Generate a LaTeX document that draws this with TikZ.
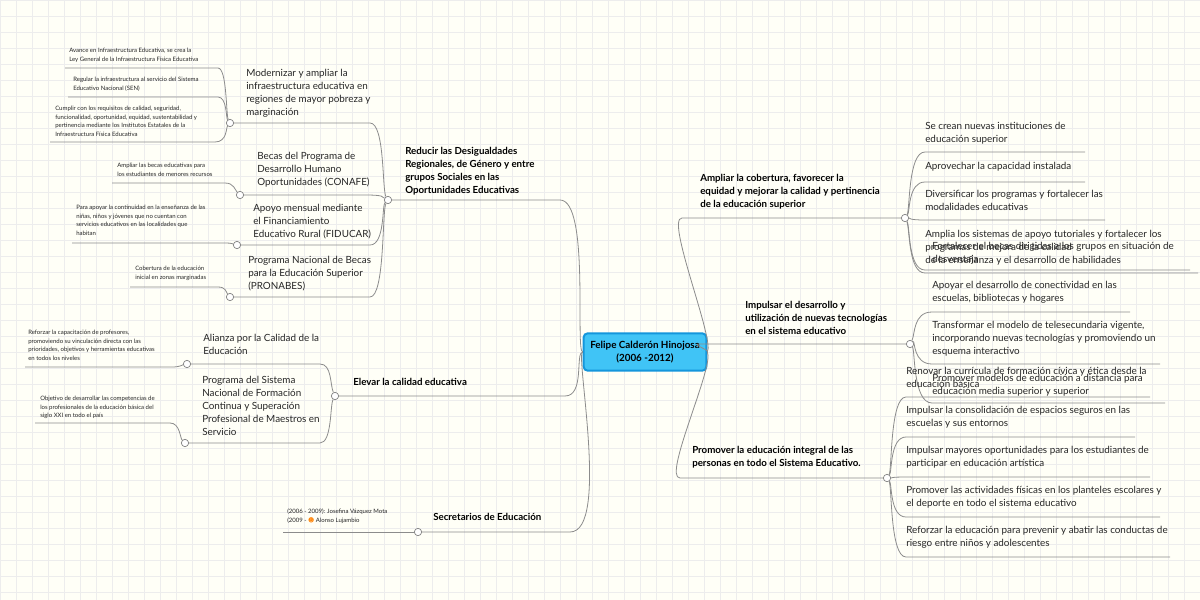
\documentclass[tikz,border=0pt]{standalone}
\usepackage{fontspec}
\setmainfont{Lato}
\newfontfamily\dejavu{DejaVu Sans}
\begin{document}
\begin{tikzpicture}[x=0.75pt,y=-0.75pt,
  ln/.style={draw=black!45,line width=0.6pt},
  dot/.style={circle,draw=black!50,fill=white,line width=0.5pt,inner sep=0pt,minimum size=5.5pt},
  big/.style={inner sep=0pt,anchor=north west,align=left,font=\fontsize{7.4}{9.8}\selectfont,text=black!85},
  sm/.style={inner sep=0pt,anchor=north west,align=left,font=\fontsize{4.5}{6.4}\selectfont,text=black!85},
  br/.style={inner sep=0pt,anchor=north west,align=left,font=\bfseries\fontsize{7.3}{9.8}\selectfont,text=black}]
\useasboundingbox (0,0) rectangle (1200,600);
\fill[yellow!3!white] (0,0) rectangle (1200,600);
\foreach \i in {0,16,...,1200} \draw[black!7,line width=0.3pt] (\i,0) -- (\i,600);
\foreach \i in {0,16,...,600} \draw[black!7,line width=0.3pt] (0,\i) -- (1200,\i);
% center
\node[draw={rgb,255:red,20;green,150;blue,220},line width=1.5pt,fill={rgb,255:red,64;green,196;blue,246},rounded corners=3pt,minimum width=92pt,minimum height=28pt,inner sep=0pt,align=center,font=\bfseries\fontsize{7.4}{10}\selectfont] (c) at (645,352) {Felipe Calderón Hinojosa\\(2006 -2012)};
% ===== Left branch 1
\node[dot] (L1) at (388,200) {};
\coordinate (L1e) at (560,200);
\draw[ln] (c.west) .. controls (575,352) and (590,200) .. (L1e) -- (L1);
\node[br] (L1t) at (405,147) {Reducir las Desigualdades\\Regionales, de Género y entre\\grupos Sociales en las\\Oportunidades Educativas};
% children
\node[dot] (M) at (230,123) {};
\node[big] (Mt) at (246,69) {Modernizar y ampliar la\\infraestructura educativa en\\regiones de mayor pobreza y\\marginación};
\draw[ln] (L1) .. controls (382,190) and (385,123) .. (370,123) -- (M);
\node[dot] (B) at (240,195) {};
\node[big] (Bt) at (257,152) {Becas del Programa de\\Desarrollo Humano\\Oportunidades (CONAFE)};
\draw[ln] (L1) .. controls (382,197) and (385,195) .. (365,195) -- (B);
\node[dot] (A) at (237,245) {};
\node[big] (At) at (253,204) {Apoyo mensual mediante\\el Financiamiento\\Educativo Rural (FIDUCAR)};
\draw[ln] (L1) .. controls (382,205) and (385,245) .. (370,245) -- (A);
\node[dot] (P) at (230,297) {};
\node[big] (Pt) at (248,256) {Programa Nacional de Becas\\para la Educación Superior\\(PRONABES)};
\draw[ln] (L1) .. controls (382,210) and (385,297) .. (370,297) -- (P);
% grandchildren
\coordinate (m1) at (65,68); \coordinate (m2) at (68,97); \coordinate (m3) at (50,142);
\node[sm] at (69,48) {Avance en Infraestructura Educativa, se crea la\\Ley General de la Infraestructura Física Educativa};
\node[sm] at (73,77) {Regular la infraestructura al servicio del Sistema\\Educativo Nacional (SEN)};
\node[sm] at (55,106) {Cumplir con los requisitos de calidad, seguridad,\\funcionalidad, oportunidad, equidad, sustentabilidad y\\pertinencia mediante los Institutos Estatales de la\\Infraestructura Física Educativa};
\draw[ln] (M) .. controls (226,115) and (227,68) .. (218,68) -- (m1);
\draw[ln] (M) .. controls (226,118) and (227,97) .. (218,97) -- (m2);
\draw[ln] (M) .. controls (226,128) and (227,142) .. (215,142) -- (m3);
\coordinate (b1) at (112,183);
\node[sm] at (117,163) {Ampliar las becas educativas para\\los estudiantes de menores recursos};
\draw[ln] (B) .. controls (235,190) and (234,183) .. (225,183) -- (b1);
\coordinate (a1) at (72,243);
\node[sm] at (76,205) {Para apoyar la continuidad en la enseñanza de las\\niñas, niños y jóvenes que no cuentan con\\servicios educativos en las localidades que\\habitan};
\draw[ln] (A) .. controls (233,244) and (232,243) .. (225,243) -- (a1);
\coordinate (p1) at (130,287);
\node[sm] at (135,266) {Cobertura de la educación\\inicial en zonas marginadas};
\draw[ln] (P) .. controls (226,292) and (226,287) .. (218,287) -- (p1);
% ===== Left branch 2
\node[dot] (L2) at (335,396) {};
\coordinate (L2e) at (565,396);
\draw[ln] (c.west) .. controls (575,352) and (585,396) .. (L2e) -- (L2);
\node[br] (L2t) at (353,378) {Elevar la calidad educativa};
\node[dot] (E1) at (187,364) {};
\node[big] (E1t) at (203,334) {Alianza por la Calidad de la\\Educación};
\draw[ln] (L2) .. controls (330,385) and (332,364) .. (320,364) -- (E1);
\node[dot] (E2) at (185,443) {};
\node[big] (E2t) at (202,376) {Programa del Sistema\\Nacional de Formación\\Continua y Superación\\Profesional de Maestros en\\Servicio};
\draw[ln] (L2) .. controls (330,405) and (332,443) .. (320,443) -- (E2);
\coordinate (e1) at (25,367);
\node[sm] at (28,330) {Reforzar la capacitación de profesores,\\promoviendo su vinculación directa con las\\prioridades, objetivos y herramientas educativas\\en todos los niveles};
\draw[ln] (E1) .. controls (182,365) and (180,367) .. (172,367) -- (e1);
\coordinate (e2) at (35,423);
\node[sm] at (40,396) {Objetivo de desarrollar las competencias de\\los profesionales de la educación básica del\\siglo XXI en todo el país};
\draw[ln] (E2) .. controls (180,438) and (180,423) .. (170,423) -- (e2);
% ===== Left branch 3
\node[dot] (L3) at (418,532) {};
\coordinate (L3e) at (570,532);
\draw[ln] (c.west) .. controls (575,352) and (610,532) .. (L3e) -- (L3);
\node[br] (L3t) at (433,513) {Secretarios de Educación};
\coordinate (s1) at (283,532);
\node[sm] at (287,509) {(2006 - 2009): Josefina Vázquez Mota\\(2009 - {\dejavu\textcolor{orange}{☻}} Alonso Lujambio};
\draw[ln] (L3) -- (s1);
% ===== Right branch 1
\node[dot] (R1) at (905,218) {};
\coordinate (R1s) at (682,218);
\draw[ln] (c.east) .. controls (715,340) and (665,218) .. (R1s) -- (R1);
\node[br] (R1t) at (700,174) {Ampliar la cobertura, favorecer la\\equidad y mejorar la calidad y pertinencia\\de la educación superior};
\node[big] (r11) at (925,122) {Se crean nuevas instituciones de\\educación superior};
\node[big] (r12) at (925,162) {Aprovechar la capacidad instalada};
\node[big] (r13) at (925,190) {Diversificar los programas y fortalecer las\\modalidades educativas};
\node[big] (r14) at (925,230) {Amplia los sistemas de apoyo tutoriales y fortalecer los\\programas de mejora de la calidad\\de la enseñanza y el desarrollo de habilidades};
\node[big] (r15) at (932,242) {Fortalecer el becas dirigidas a los grupos en situación de\\desventaja};
\draw[ln] (R1) .. controls (910,210) and (908,152) .. (925,152) -- (1085,152);
\draw[ln] (R1) .. controls (910,212) and (908,182) .. (925,182) -- (1085,182);
\draw[ln] (R1) .. controls (910,218) and (908,220) .. (925,220) -- (1105,220);
\draw[ln] (R1) .. controls (910,226) and (908,270) .. (925,270) -- (1190,270);
\draw[ln] (R1) .. controls (910,228) and (908,273) .. (925,273) -- (1198,273);
% ===== Right branch 2
\node[dot] (R2) at (910,344) {};
\coordinate (R2s) at (700,344);
\draw[ln] (c.east) .. controls (710,350) and (690,344) .. (R2s) -- (R2);
\node[br] (R2t) at (745,301) {Impulsar el desarrollo y\\utilización de nuevas tecnologías\\en el sistema educativo};
\node[big] (r21) at (932,281) {Apoyar el desarrollo de conectividad en las\\escuelas, bibliotecas y hogares};
\node[big] (r22) at (932,321) {Transformar el modelo de telesecundaria vigente,\\incorporando nuevas tecnologías y promoviendo un\\esquema interactivo};
\node[big] (r23) at (932,374) {Promover modelos de educación a distancia para\\educación media superior y superior};
\draw[ln] (R2) .. controls (915,335) and (913,312) .. (932,312) -- (1130,312);
\draw[ln] (R2) .. controls (915,340) and (913,364) .. (932,364) -- (1160,364);
\draw[ln] (R2) .. controls (915,350) and (913,403) .. (932,403) -- (1165,403);
% ===== Right branch 3
\node[dot] (R3) at (887,478) {};
\coordinate (R3s) at (680,478);
\draw[ln] (c.east) .. controls (715,365) and (662,478) .. (R3s) -- (R3);
\node[br] (R3t) at (692,446) {Promover la educación integral de las\\personas en todo el Sistema Educativo.};
\node[big] (r31) at (906,367) {Renovar la currícula de formación cívica y ética desde la\\educación básica};
\node[big] (r32) at (906,406) {Impulsar la consolidación de espacios seguros en las\\escuelas y sus entornos};
\node[big] (r33) at (906,446) {Impulsar mayores oportunidades para los estudiantes de\\participar en educación artística};
\node[big] (r34) at (906,486) {Promover las actividades físicas en los planteles escolares y\\el deporte en todo el sistema educativo};
\node[big] (r35) at (906,526) {Reforzar la educación para prevenir y abatir las conductas de\\riesgo entre niños y adolescentes};
\draw[ln] (R3) .. controls (892,470) and (890,397) .. (906,397) -- (1150,397);
\draw[ln] (R3) .. controls (892,472) and (890,437) .. (906,437) -- (1135,437);
\draw[ln] (R3) .. controls (892,478) and (890,477) .. (906,477) -- (1150,477);
\draw[ln] (R3) .. controls (892,484) and (890,517) .. (906,517) -- (1160,517);
\draw[ln] (R3) .. controls (892,486) and (890,557) .. (906,557) -- (1170,557);
\end{tikzpicture}
\end{document}
